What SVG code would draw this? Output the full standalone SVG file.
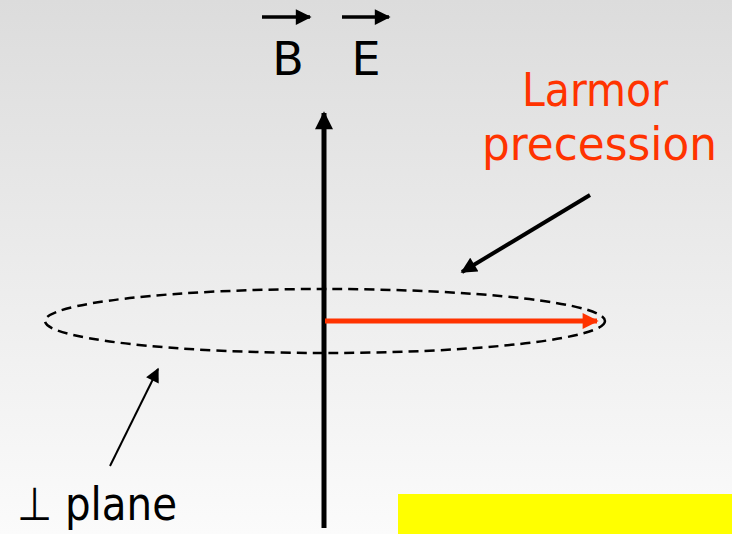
<svg xmlns="http://www.w3.org/2000/svg" width="732" height="534" viewBox="0 0 732 534">
<defs>
<linearGradient id="bg" x1="0" y1="0" x2="0" y2="1">
<stop offset="0" stop-color="#dcdcdc"/>
<stop offset="1" stop-color="#fbfbfb"/>
</linearGradient>
<marker id="ah" viewBox="0 0 10 10" refX="9" refY="5" markerWidth="3.8" markerHeight="3.6" orient="auto" markerUnits="strokeWidth"><path d="M0,0 L10,5 L0,10 z" fill="#000"/></marker>
<marker id="ahb" viewBox="0 0 10 10" refX="9" refY="5" markerWidth="4.2" markerHeight="4" orient="auto" markerUnits="strokeWidth"><path d="M0,0 L10,5 L0,10 z" fill="#000"/></marker>
<marker id="ahv" viewBox="0 0 10 10" refX="9" refY="5" markerWidth="4.8" markerHeight="4.5" orient="auto" markerUnits="strokeWidth"><path d="M0,0 L10,5 L0,10 z" fill="#000"/></marker>
<marker id="ahr" viewBox="0 0 10 10" refX="9" refY="5" markerWidth="3.6" markerHeight="3.2" orient="auto" markerUnits="strokeWidth"><path d="M0,0 L10,5 L0,10 z" fill="#ff3300"/></marker>
<marker id="aht" viewBox="0 0 10 10" refX="9" refY="5" markerWidth="8" markerHeight="7" orient="auto" markerUnits="strokeWidth"><path d="M0,0 L10,5 L0,10 z" fill="#000"/></marker>
</defs>
<style>
.t{font-family:"Comic Sans MS","DejaVu Sans",sans-serif;font-size:46px}
</style>
<rect width="732" height="534" fill="url(#bg)"/>
<rect x="398" y="494" width="334" height="40" fill="#ffff00"/>
<g id="plane">
<ellipse cx="325" cy="321" rx="280" ry="32" fill="none" stroke="#000" stroke-width="2.5" stroke-dasharray="10,6"/>
</g>
<g id="connectors">
<line x1="324" y1="528" x2="324" y2="113" stroke="#000" stroke-width="5" marker-end="url(#ah)"/>
<line x1="325" y1="321" x2="597" y2="321" stroke="#ff3300" stroke-width="5" marker-end="url(#ahr)"/>
<line x1="590" y1="195" x2="462" y2="272" stroke="#000" stroke-width="4" marker-end="url(#ahb)"/>
<line x1="110" y1="466" x2="158" y2="369" stroke="#000" stroke-width="2" marker-end="url(#aht)"/>
<line x1="262" y1="17" x2="310" y2="17" stroke="#000" stroke-width="3.5" marker-end="url(#ahv)"/>
<line x1="342" y1="17" x2="389" y2="17" stroke="#000" stroke-width="3.5" marker-end="url(#ahv)"/>
</g>
<g id="labelB"><text class="t" x="288" y="75" font-size="54" text-anchor="middle" fill="#000">B</text></g>
<g id="labelE"><text class="t" x="366" y="75" font-size="54" text-anchor="middle" fill="#000">E</text></g>
<g id="larmor">
<text class="t" x="522" y="106" textLength="146" lengthAdjust="spacingAndGlyphs" fill="#ff3300">Larmor</text>
<text class="t" x="482" y="160" textLength="235" lengthAdjust="spacingAndGlyphs" fill="#ff3300">precession</text>
</g>
<g id="perp"><text class="t" x="17" y="520" textLength="160" lengthAdjust="spacingAndGlyphs" fill="#000">⊥ plane</text></g>
</svg>
